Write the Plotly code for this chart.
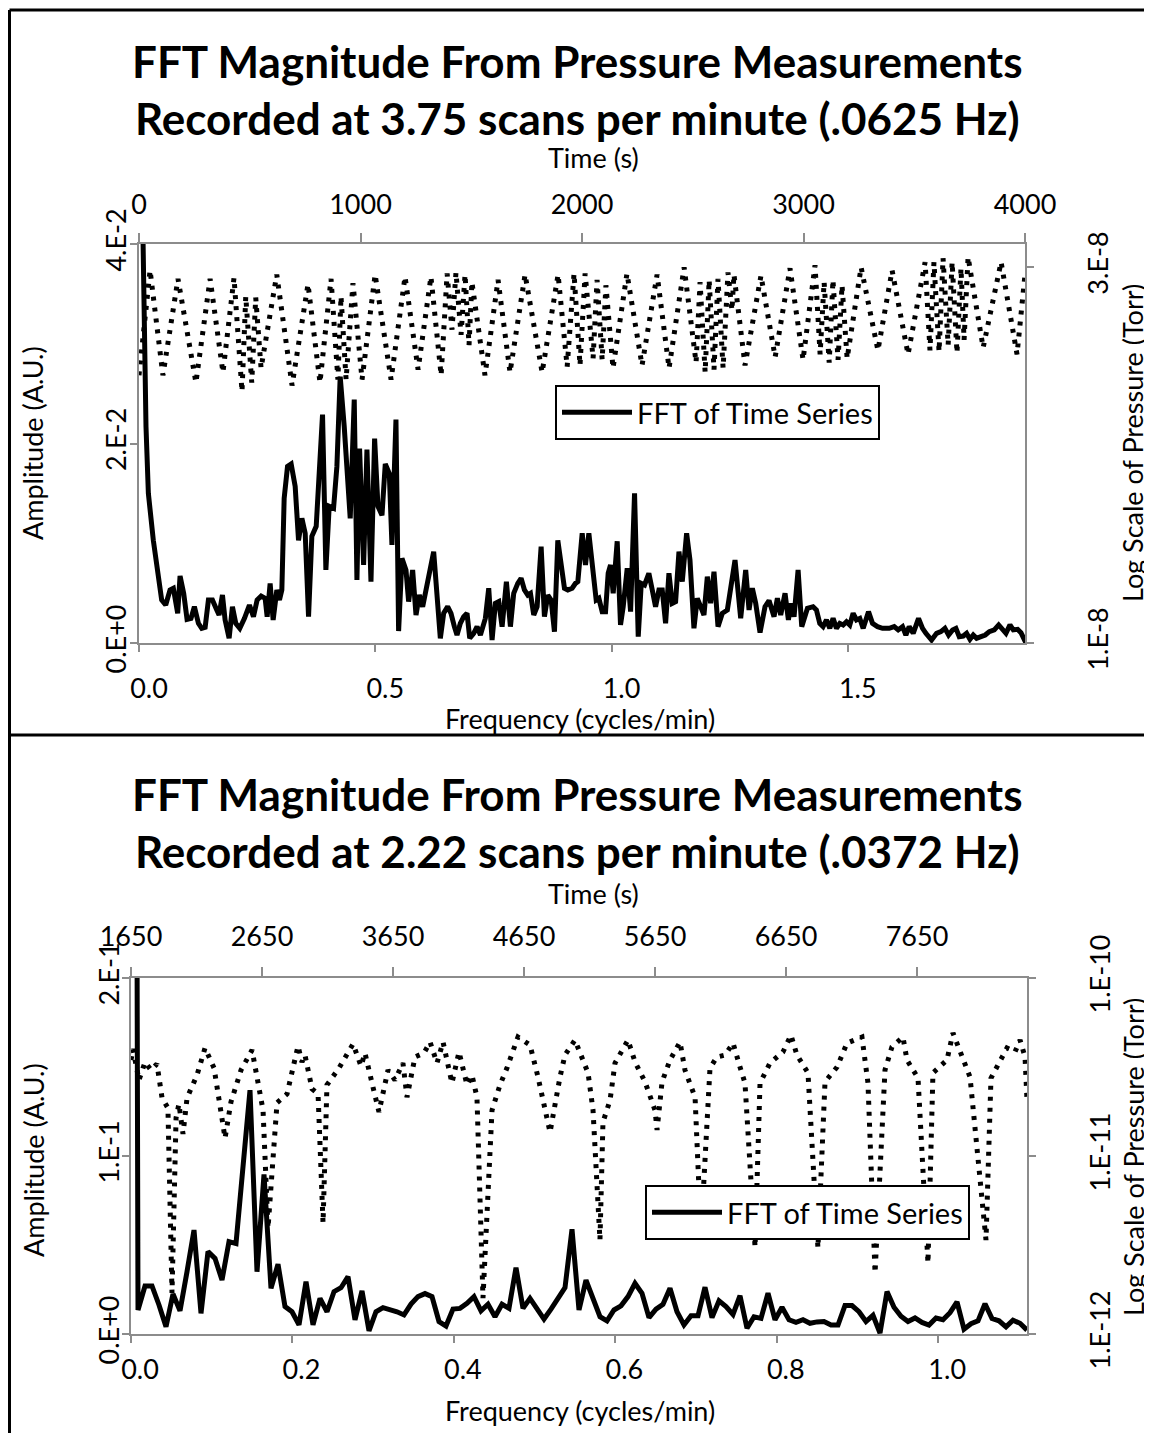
import plotly.graph_objects as go

# ---------------- Panel 1 data (3.75 scans/min) ----------------
freq1 = [0.0, 0.0085, 0.0148, 0.0198, 0.0303, 0.0395, 0.048, 0.0565, 0.0657, 0.0727,
         0.0819, 0.0869, 0.0946, 0.1017, 0.110, 0.1172, 0.1257, 0.1328, 0.140, 0.1469,
         0.1554, 0.1646, 0.1695, 0.1766, 0.1822, 0.1907, 0.1977, 0.2048, 0.2133, 0.2232,
         0.2337, 0.2422, 0.25, 0.2585, 0.2669, 0.2712, 0.2775, 0.2839, 0.2917, 0.2973,
         0.3023, 0.3072, 0.3143, 0.322, 0.3305, 0.3376, 0.3447, 0.3517, 0.3588, 0.3658,
         0.375, 0.3884, 0.3955, 0.4025, 0.4117, 0.4188, 0.4258, 0.4343, 0.4421, 0.447,
         0.4555, 0.4612, 0.4668, 0.4753, 0.4824, 0.4909, 0.4986, 0.5057, 0.5142, 0.5212,
         0.5297, 0.5353, 0.5438, 0.5494, 0.5565, 0.565, 0.5706, 0.5791, 0.5862, 0.5932,
         0.6003, 0.6116, 0.6236, 0.6377, 0.6448, 0.6532, 0.6603, 0.6674, 0.673, 0.68,
         0.6871, 0.6942, 0.6999, 0.7083, 0.7154, 0.7225, 0.733, 0.7401, 0.7472, 0.7542,
         0.7613, 0.7684, 0.7775, 0.786, 0.793, 0.8016, 0.8086, 0.8157, 0.8227, 0.8284,
         0.8354, 0.8425, 0.851, 0.858, 0.8651, 0.8722, 0.8792, 0.8863, 0.894, 0.9004,
         0.9075, 0.9167, 0.9237, 0.9287, 0.9379, 0.9449, 0.952, 0.959, 0.9675, 0.9732,
         0.9802, 0.9873, 0.9929, 0.9979, 1.0035, 1.012, 1.019, 1.0247, 1.0332, 1.0403,
         1.0487, 1.0565, 1.0629, 1.0699, 1.079, 1.0862, 1.0932, 1.1003, 1.1073, 1.1144,
         1.1215, 1.1285, 1.1356, 1.1427, 1.1497, 1.1589, 1.166, 1.1744, 1.1815, 1.1886,
         1.1956, 1.2027, 1.2097, 1.2168, 1.2253, 1.2345, 1.2451, 1.2613, 1.2733, 1.2839,
         1.291, 1.298, 1.3051, 1.3143, 1.3248, 1.3333, 1.3439, 1.351, 1.358, 1.3672,
         1.3743, 1.38, 1.3863, 1.3948, 1.4025, 1.4146, 1.4265, 1.4336, 1.4407, 1.4477,
         1.4548, 1.4619, 1.4689, 1.476, 1.4831, 1.4901, 1.4972, 1.5042, 1.5113, 1.5184,
         1.5254, 1.5325, 1.5438, 1.5523, 1.5629, 1.5735, 1.5876, 1.5982, 1.6066, 1.6158,
         1.6229, 1.6299, 1.6384, 1.6497, 1.6582, 1.6653, 1.6773, 1.6879, 1.697, 1.7055,
         1.7133, 1.7218, 1.7288, 1.7359, 1.7443, 1.7514, 1.7585, 1.7655, 1.7726, 1.7818,
         1.7909, 1.7994, 1.81, 1.8193, 1.8263, 1.8347, 1.8432, 1.8502, 1.8595, 1.8665,
         1.877]
amp1_milli = [300.0, 40.5, 21.7, 15.0, 10.3, 6.65, 4.31, 3.81, 5.32, 5.49,
              2.98, 6.72, 4.98, 2.37, 2.47, 3.64, 1.97, 1.47, 1.57, 4.31,
              4.31, 3.31, 2.81, 4.81, 2.31, 0.47, 3.64, 1.97, 1.47, 2.47,
              3.81, 2.64, 4.31, 4.71, 4.48, 2.64, 5.98, 2.31, 5.32, 4.31,
              5.32, 14.5, 17.7, 17.95, 15.7, 10.3, 12.5, 11.0, 2.64, 10.7,
              11.7, 22.9, 7.32, 13.7, 13.5, 17.7, 26.7, 21.7, 14.7, 12.5,
              24.4, 6.32, 19.5, 7.82, 19.4, 6.15, 20.5, 13.7, 12.8, 17.95,
              17.0, 9.83, 22.4, 1.2, 8.49, 7.32, 4.15, 7.32, 2.81, 4.81,
              3.64, 6.65, 9.16, 0.47, 3.0, 3.64, 2.98, 1.64, 0.8, 1.97,
              2.64, 2.98, 0.47, 0.97, 1.64, 0.8, 2.47, 5.49, 0.3, 3.98,
              4.15, 1.64, 6.15, 1.64, 4.98, 5.98, 6.49, 5.32, 4.81, 4.98,
              2.81, 3.64, 9.66, 2.64, 4.81, 4.31, 1.14, 10.3, 7.32, 5.49,
              5.32, 5.49, 5.98, 6.15, 11.0, 7.82, 11.0, 7.82, 4.31, 4.48,
              3.14, 3.14, 6.99, 7.82, 4.98, 10.2, 1.81, 3.64, 7.49, 3.14,
              15.0, 0.64, 5.98, 5.82, 6.99, 5.32, 3.64, 5.32, 5.32, 1.97,
              6.99, 3.98, 4.15, 9.16, 6.15, 11.0, 8.32, 1.47, 4.48, 3.64,
              2.81, 6.65, 3.98, 7.15, 1.64, 2.98, 3.31, 8.32, 2.47, 7.32,
              3.31, 5.49, 3.98, 1.04, 3.64, 4.25, 2.64, 4.48, 2.81, 4.98,
              2.31, 3.98, 2.64, 7.32, 1.64, 3.48, 3.64, 3.31, 1.97, 1.64,
              2.31, 1.47, 2.47, 1.47, 1.97, 1.81, 2.14, 1.81, 2.98, 2.31,
              2.47, 1.47, 3.14, 1.97, 1.64, 1.47, 1.47, 1.64, 1.31, 1.64,
              0.8, 1.64, 0.97, 2.47, 1.47, 0.97, 0.3, 0.97, 1.14, 1.47,
              0.8, 1.31, 1.47, 0.64, 0.7, 0.97, 0.37, 0.8, 0.47, 0.64,
              0.8, 1.14, 1.31, 1.81, 1.47, 0.97, 1.81, 1.31, 1.37, 1.04,
              0.0]
time1 = [0, 50, 108, 176, 257, 321, 379, 429, 465, 482, 509, 527, 551, 622, 691, 763,
         817, 867, 898, 912, 935, 966, 1007, 1066, 1138, 1201, 1260, 1318, 1364, 1391,
         1413, 1431, 1454, 1472, 1490, 1503, 1562, 1621, 1675, 1743, 1820, 1892, 1933,
         1964, 1991, 2014, 2050, 2068, 2091, 2108, 2140, 2203, 2271, 2339, 2393, 2461,
         2515, 2533, 2556, 2574, 2596, 2614, 2637, 2659, 2677, 2686, 2736, 2808, 2872,
         2939, 2998, 3052, 3075, 3093, 3116, 3133, 3156, 3174, 3197, 3260, 3336, 3400,
         3472, 3549, 3571, 3589, 3612, 3630, 3653, 3671, 3693, 3711, 3725, 3743, 3811,
         3892, 3964, 4000]
pressure1_e8 = [2.27, 3.13, 2.27, 3.05, 2.22, 3.05, 2.29, 3.06, 2.16, 2.89, 2.22, 2.88,
                2.32, 3.09, 2.20, 3.00, 2.22, 3.05, 2.24, 2.89, 2.24, 3.01, 2.24, 3.09,
                2.24, 3.07, 2.31, 3.07, 2.27, 3.10, 2.61, 3.11, 2.57, 3.09, 2.49, 3.02,
                2.27, 3.04, 2.29, 3.09, 2.29, 3.09, 2.33, 3.10, 2.34, 3.10, 2.39, 3.04,
                2.38, 2.99, 2.32, 3.10, 2.34, 3.09, 2.32, 3.16, 2.36, 3.02, 2.29, 3.04,
                2.31, 3.05, 2.32, 3.11, 2.77, 3.09, 2.34, 3.08, 2.40, 3.15, 2.38, 3.18,
                2.42, 3.02, 2.36, 3.04, 2.38, 2.99, 2.39, 3.16, 2.45, 3.13, 2.42, 3.21,
                2.45, 3.21, 2.44, 3.25, 2.49, 3.21, 2.43, 3.15, 2.53, 3.26, 2.47, 3.21,
                2.42, 3.09]

# ---------------- Panel 2 data (2.22 scans/min) ----------------
amp2_milli = [1500.0, 13.5, 27.0, 27.0, 16.3, 4.1, 22.5, 13.0, 35.0, 58.4,
              11.6, 46.3, 42.5, 30.3, 51.9, 50.8, 94.0, 137.0, 35.0, 89.6,
              25.7, 39.2, 15.4, 12.5, 5.1, 29.4, 5.1, 20.0, 12.5, 23.8,
              26.0, 32.2, 7.9, 24.2, 1.8, 12.5, 14.8, 14.0, 12.5, 10.7,
              16.8, 21.0, 22.7, 21.0, 7.0, 4.5, 14.0, 14.4, 17.2, 21.0,
              13.0, 16.7, 9.7, 16.7, 14.4, 37.3, 14.4, 20.0, 14.4, 8.4,
              14.0, 20.5, 26.0, 58.8, 13.5, 30.3, 20.0, 9.7, 7.4, 13.5,
              15.8, 21.0, 28.5, 22.9, 9.2, 14.0, 16.7, 25.7, 12.5, 5.1,
              10.2, 10.2, 26.3, 9.2, 18.6, 15.4, 11.0, 21.5, 3.2, 9.7,
              8.8, 22.9, 8.0, 15.0, 8.0, 6.5, 8.0, 6.0, 6.8, 7.0,
              5.0, 5.0, 16.0, 16.0, 12.5, 7.0, 10.5, 0.5, 23.8, 15.0,
              10.0, 7.0, 9.0, 6.5, 5.0, 9.0, 8.0, 12.0, 18.0, 2.7,
              5.8, 7.4, 17.0, 8.7, 7.4, 4.0, 7.8, 6.0, 2.2]
freq2_step = 1.11 / 128
freq2 = [round(k * freq2_step, 5) for k in range(len(amp2_milli))]
time2 = [1650, 1665, 1711, 1757, 1803, 1848, 1887, 1932, 1963, 1994, 2016, 2047, 2078,
         2154, 2215, 2284, 2314, 2368, 2413, 2490, 2574, 2612, 2658, 2696, 2765, 2841,
         2925, 2955, 2978, 3032, 3078, 3116, 3146, 3238, 3345, 3406, 3436, 3497, 3543,
         3612, 3665, 3726, 3757, 3818, 3887, 3933, 3986, 4032, 4100, 4154, 4215, 4253,
         4291, 4337, 4406, 4467, 4520, 4604, 4696, 4757, 4849, 4925, 4963, 5039, 5139,
         5177, 5230, 5253, 5307, 5345, 5444, 5498, 5574, 5650, 5666, 5704, 5765, 5841,
         5879, 5956, 6001, 6070, 6123, 6185, 6246, 6299, 6337, 6414, 6452, 6528, 6627,
         6688, 6734, 6818, 6894, 6948, 7040, 7116, 7230, 7276, 7330, 7406, 7459, 7543,
         7574, 7658, 7734, 7772, 7879, 7925, 7994, 8055, 8177, 8215, 8337, 8398, 8437,
         8475, 8490]
pressure2_e12 = [34.6, 39.9, 26.7, 33.7, 30.4, 32.9, 21.2, 18.6, 1.70, 16.4, 19.6, 13.3,
                 21.2, 28.5, 40.4, 31.2, 22.6, 12.6, 20.1, 30.4, 39.4, 28.5, 18.1, 3.94,
                 19.9, 22.3, 41.5, 33.7, 36.9, 23.8, 22.3, 4.20, 25.1, 31.2, 42.6, 32.0,
                 37.9, 24.4, 17.7, 30.4, 26.7, 33.3, 21.4, 36.0, 37.9, 43.7, 33.3, 43.7,
                 25.7, 38.4, 25.1, 28.5, 21.4, 1.59, 18.1, 25.1, 31.2, 46.6, 42.0, 27.8,
                 13.6, 27.8, 36.9, 44.8, 29.3, 18.1, 3.37, 15.5, 20.6, 33.3, 44.8, 33.7,
                 26.1, 18.1, 14.0, 26.1, 34.6, 43.7, 30.4, 21.4, 3.60, 31.2, 36.0, 36.9,
                 43.1, 31.6, 25.7, 3.08, 25.7, 33.3, 38.4, 47.8, 36.9, 29.3, 3.04, 26.1,
                 31.6, 43.1, 46.6, 25.7, 2.20, 30.4, 41.0, 46.6, 34.6, 27.4, 2.50, 29.3,
                 34.6, 49.1, 35.5, 27.8, 3.37, 27.4, 40.4, 38.4, 44.8, 36.0, 20.6]

# tick labels
freq1_ticks = [0.0, 0.5, 1.0, 1.5]
freq1_ticktext = ["0.0", "0.5", "1.0", "1.5"]
time1_ticks = [0, 1000, 2000, 3000, 4000]
amp1_ticks = [0.0, 0.02, 0.04]
amp1_ticktext = ["0.E+0", "2.E-2", "4.E-2"]
pres1_ticks = [1e-8, 3.1623e-8]
pres1_ticktext = ["1.E-8", "3.E-8"]

freq2_ticks = [0.0, 0.2, 0.4, 0.6, 0.8, 1.0]
freq2_ticktext = ["0.0", "0.2", "0.4", "0.6", "0.8", "1.0"]
time2_ticks = [1650, 2650, 3650, 4650, 5650, 6650, 7650]
amp2_ticks = [0.0, 0.1, 0.2]
amp2_ticktext = ["0.E+0", "1.E-1", "2.E-1"]
pres2_ticks = [1e-12, 1e-11, 1e-10]
pres2_ticktext = ["1.E-12", "1.E-11", "1.E-10"]

# ---------------- Figure ----------------
W, H = 1152, 1433
PAGE_OFFSET = 8   # default page margin around the figure
FONT = "Lato"
AX_GRAY = "#8c8c8c"
TICKFONT = dict(family=FONT, size=27, color="black")


def px_x(p):
    return (p - PAGE_OFFSET) / W


def px_y(p):
    return 1 - (p - PAGE_OFFSET) / H


fig = go.Figure()

DOT_LINE = dict(color="black", width=5, dash="4px,7px")
fig.add_trace(go.Scatter(x=time1, y=[v * 1e-8 for v in pressure1_e8], xaxis="x2", yaxis="y2",
                         mode="lines", line=DOT_LINE, showlegend=False, hoverinfo="skip"))
fig.add_trace(go.Scatter(x=freq1, y=[v * 1e-3 for v in amp1_milli], xaxis="x", yaxis="y",
                         mode="lines", line=dict(color="black", width=5),
                         name="FFT of Time Series", legend="legend"))

fig.add_trace(go.Scatter(x=time2, y=[v * 1e-12 for v in pressure2_e12], xaxis="x4", yaxis="y4",
                         mode="lines", line=DOT_LINE, showlegend=False, hoverinfo="skip"))
fig.add_trace(go.Scatter(x=freq2, y=[v * 1e-3 for v in amp2_milli], xaxis="x3", yaxis="y3",
                         mode="lines", line=dict(color="black", width=5),
                         name="FFT of Time Series", legend="legend2"))

common = dict(showgrid=False, zeroline=False, showline=True, linecolor=AX_GRAY, linewidth=2,
              ticks="outside", tickcolor=AX_GRAY, tickwidth=2, ticklen=7, tickfont=TICKFONT,
              automargin=False)

p1x = [px_x(139), px_x(1025)]
p1y = [px_y(643), px_y(244)]
p2x = [px_x(131), px_x(1027)]
p2y = [px_y(1334), px_y(978)]

LEGEND_FONT = dict(family=FONT, size=29, color="black")

fig.update_layout(
    width=W, height=H, autosize=False, margin=dict(l=0, r=0, t=0, b=0, pad=0, autoexpand=False),
    paper_bgcolor="white", plot_bgcolor="white",
    font=dict(family=FONT, color="black"),
    xaxis=dict(domain=p1x, anchor="y", range=[0, 1.875], tickvals=freq1_ticks,
               ticktext=freq1_ticktext, ticklabelstandoff=14, ticklabelshift=10, **common),
    xaxis2=dict(overlaying="x", side="top", anchor="y", range=[0, 4000], tickvals=time1_ticks,
                ticklabelstandoff=8, **{**common, "ticklen": 9}),
    yaxis=dict(domain=p1y, anchor="x", range=[0, 0.04], tickvals=amp1_ticks,
               ticktext=amp1_ticktext, tickangle=-90, ticklabelstandoff=-7, **common),
    yaxis2=dict(overlaying="y", side="right", anchor="x", type="log", range=[-8, -7.4694],
                tickvals=pres1_ticks, ticktext=pres1_ticktext, tickangle=-90,
                ticklabelstandoff=42, **common),
    xaxis3=dict(domain=p2x, anchor="y3", range=[0, 1.11], tickvals=freq2_ticks,
                ticktext=freq2_ticktext, ticklabelstandoff=4, ticklabelshift=9, **common),
    xaxis4=dict(overlaying="x3", side="top", anchor="y3", range=[1650, 8490],
                tickvals=time2_ticks, ticklabelstandoff=10, **{**common, "ticklen": 9}),
    yaxis3=dict(domain=p2y, anchor="x3", range=[0, 0.2], tickvals=amp2_ticks,
                ticktext=amp2_ticktext, tickangle=-90, ticklabelstandoff=-8, **common),
    yaxis4=dict(overlaying="y3", side="right", anchor="x3", type="log", range=[-12, -10],
                tickvals=pres2_ticks, ticktext=pres2_ticktext, tickangle=-90,
                ticklabelstandoff=42, **common),
    legend=dict(x=px_x(555), y=px_y(385), xanchor="left", yanchor="top",
                bgcolor="white", bordercolor="black", borderwidth=2,
                font=LEGEND_FONT, itemwidth=70),
    legend2=dict(x=px_x(645), y=px_y(1185), xanchor="left", yanchor="top",
                 bgcolor="white", bordercolor="black", borderwidth=2,
                 font=LEGEND_FONT, itemwidth=70),
)

TITLE_FONT = dict(family=FONT, size=44)
AXT_FONT = dict(family=FONT, size=27)
annotations = [
    dict(text="<b>FFT Magnitude From Pressure Measurements<br>Recorded at 3.75 scans per minute (.0625 Hz)</b>",
         x=px_x(577), y=px_y(89), font=TITLE_FONT),
    dict(text="<b>FFT Magnitude From Pressure Measurements<br>Recorded at 2.22 scans per minute (.0372 Hz)</b>",
         x=px_x(577), y=px_y(822), font=TITLE_FONT),
    dict(text="Time (s)", x=px_x(593), y=px_y(157), font=AXT_FONT),
    dict(text="Time (s)", x=px_x(593), y=px_y(893), font=AXT_FONT),
    dict(text="Frequency (cycles/min)", x=px_x(580), y=px_y(718), font=AXT_FONT),
    dict(text="Frequency (cycles/min)", x=px_x(580), y=px_y(1410), font=AXT_FONT),
    dict(text="Amplitude (A.U.)", x=px_x(33), y=px_y(443), textangle=-90, font=AXT_FONT),
    dict(text="Amplitude (A.U.)", x=px_x(33), y=px_y(1160), textangle=-90, font=AXT_FONT),
    dict(text="Log Scale of Pressure (Torr)", x=px_x(1133), y=px_y(443), textangle=-90, font=AXT_FONT),
    dict(text="Log Scale of Pressure (Torr)", x=px_x(1133), y=px_y(1157), textangle=-90, font=AXT_FONT),
]
for a in annotations:
    a.update(xref="paper", yref="paper", showarrow=False, xanchor="center", yanchor="middle")
fig.update_layout(annotations=annotations)

border = dict(color="black", width=3)
fig.update_layout(shapes=[
    dict(type="line", xref="paper", yref="paper", x0=px_x(9.5), x1=px_x(1160), y0=px_y(10), y1=px_y(10), line=border),
    dict(type="line", xref="paper", yref="paper", x0=px_x(9.5), x1=px_x(9.5), y0=px_y(10), y1=px_y(1441), line=border),
    dict(type="line", xref="paper", yref="paper", x0=px_x(9.5), x1=px_x(1160), y0=px_y(735), y1=px_y(735), line=border),
])

fig.write_html("out.html")
